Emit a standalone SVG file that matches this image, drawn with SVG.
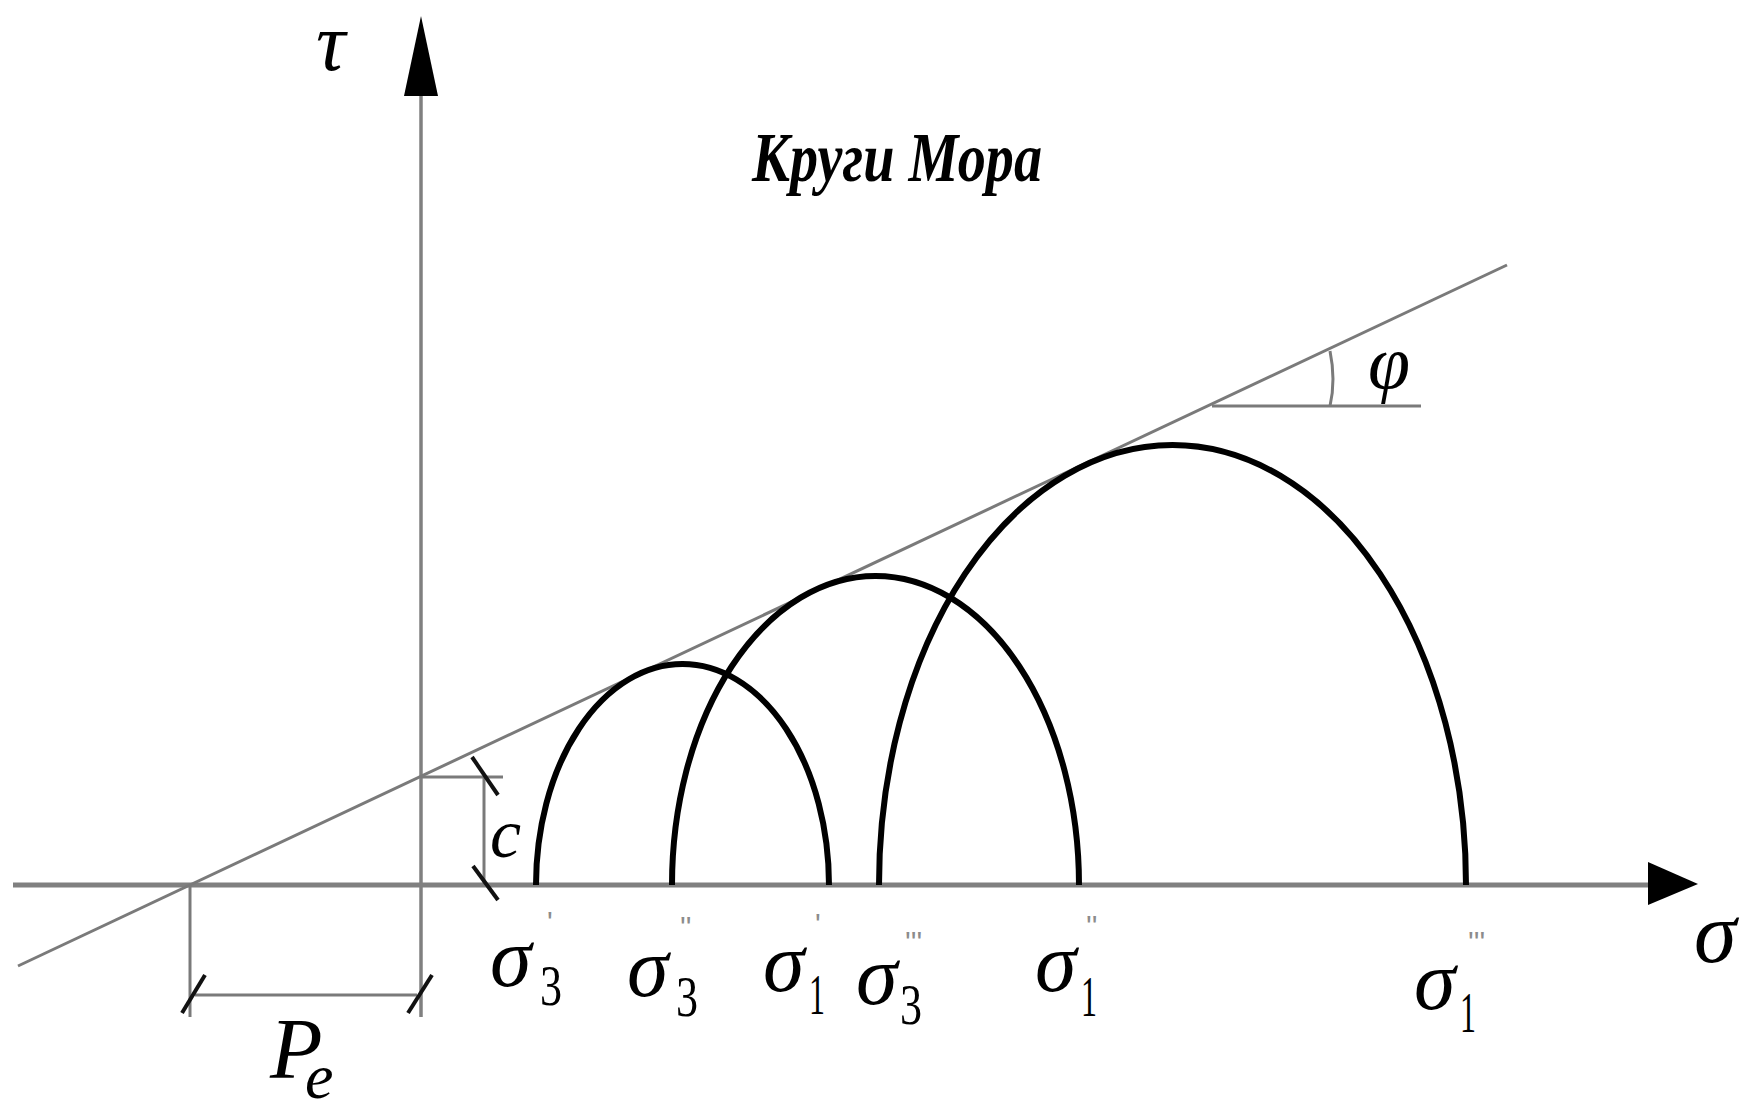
<svg xmlns="http://www.w3.org/2000/svg" width="1744" height="1110" viewBox="0 0 1744 1110">
<style>
.axis{stroke:#808080;fill:none}
.thin{stroke:#7a7a7a;stroke-width:3;fill:none}
.circ{stroke:#000;stroke-width:6;fill:none}
.tick{stroke:#111;stroke-width:4;fill:none}
.head{fill:#000}
.sym{font-family:"Liberation Serif","DejaVu Serif",serif;font-style:italic;fill:#000}
.sub{font-family:"Liberation Serif","DejaVu Serif",serif;fill:#000}
.pr{font-family:"Liberation Sans",sans-serif;fill:#8c8c8c;font-size:30px}
</style>
<rect width="1744" height="1110" fill="#fff"/>
<g id="axes">
  <line class="axis" x1="13" y1="885" x2="1652" y2="885" stroke-width="5"/>
  <polygon class="head" points="1648,862 1698,884 1648,905"/>
  <line class="axis" x1="421" y1="1017" x2="421" y2="95" stroke-width="3.5"/>
  <polygon class="head" points="421,16 404,96 438,96"/>
</g>
<g id="envelope">
  <line class="thin" x1="18" y1="966" x2="1507" y2="265"/>
  <line class="thin" x1="1212" y1="406" x2="1421" y2="406"/>
  <path class="thin" d="M 1330 351 Q 1336 380 1330 406" stroke-width="2"/>
</g>
<g id="dimensions">
  <line class="thin" x1="421" y1="777" x2="503" y2="777" stroke-width="5"/>
  <line class="thin" x1="484" y1="778" x2="484" y2="885" stroke-width="2"/>
  <line class="tick" x1="472" y1="757" x2="498" y2="795"/>
  <line class="tick" x1="473" y1="866" x2="498" y2="900"/>
  <line class="thin" x1="190" y1="885" x2="190" y2="1017"/>
  <line class="thin" x1="195" y1="995" x2="417" y2="995" stroke-width="5"/>
  <line class="tick" x1="182" y1="1013" x2="205" y2="975"/>
  <line class="tick" x1="408" y1="1013" x2="432" y2="975"/>
</g>
<g id="circles">
  <path class="circ" d="M 536 885 A 146.5 221 0 0 1 829 885"/>
  <path class="circ" d="M 672 885 A 203.5 309 0 0 1 1079 885"/>
  <path class="circ" d="M 879 885 A 293.5 440 0 0 1 1466 885"/>
</g>
<g id="labels">
  <text class="sym" x="316" y="70" font-size="82">τ</text>
  <text class="sym" x="752" y="181" font-size="70" font-weight="bold" textLength="290" lengthAdjust="spacingAndGlyphs">Круги Мора</text>
  <text class="sym" x="1368" y="388" font-size="76">φ</text>
  <text class="sym" x="490" y="857" font-size="70">c</text>
  <text class="sym" x="270" y="1078" font-size="86">P</text>
  <text class="sym" x="305" y="1098" font-size="64">e</text>
  <text class="sym" x="1694" y="962" font-size="86">σ</text>

  <text class="sym" x="490" y="986" font-size="84">σ</text>
  <text class="sub" x="540" y="1005" font-size="58" textLength="22" lengthAdjust="spacingAndGlyphs">3</text>
  <text class="pr" x="547" y="932">'</text>

  <text class="sym" x="627" y="996" font-size="84">σ</text>
  <text class="sub" x="676" y="1016" font-size="58" textLength="22" lengthAdjust="spacingAndGlyphs">3</text>
  <text class="pr" x="680" y="937">''</text>

  <text class="sym" x="763" y="991" font-size="84">σ</text>
  <text class="sub" x="809" y="1014" font-size="58" textLength="16" lengthAdjust="spacingAndGlyphs">1</text>
  <text class="pr" x="815" y="934">'</text>

  <text class="sym" x="856" y="1004" font-size="84">σ</text>
  <text class="sub" x="900" y="1024" font-size="58" textLength="22" lengthAdjust="spacingAndGlyphs">3</text>
  <text class="pr" x="905" y="952">'''</text>

  <text class="sym" x="1035" y="991" font-size="84">σ</text>
  <text class="sub" x="1081" y="1016" font-size="58" textLength="16" lengthAdjust="spacingAndGlyphs">1</text>
  <text class="pr" x="1086" y="936">''</text>

  <text class="sym" x="1414" y="1009" font-size="84">σ</text>
  <text class="sub" x="1460" y="1032" font-size="58" textLength="16" lengthAdjust="spacingAndGlyphs">1</text>
  <text class="pr" x="1468" y="952">'''</text>
</g>
</svg>
